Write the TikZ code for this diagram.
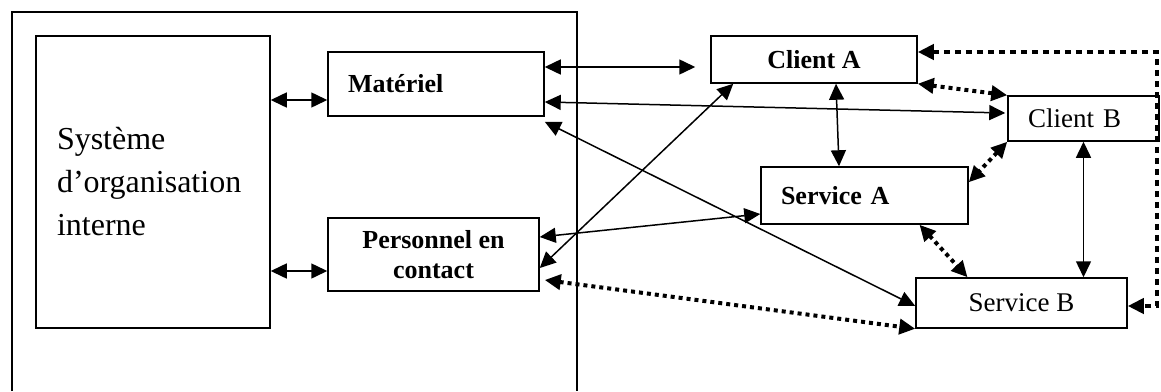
\documentclass[tikz,border=0pt]{standalone}
\usepackage{fontspec}
\setmainfont{Liberation Serif}
\usetikzlibrary{arrows.meta}
\tikzstyle{boite}=[draw,line width=1.5pt,inner sep=0pt]
\tikzstyle{gras}=[font=\fontsize{26}{30}\selectfont\bfseries]
\tikzstyle{maigre}=[font=\fontsize{27}{30}\selectfont]
\tikzstyle{lien}=[{Triangle[length=16pt,width=15pt]}-{Triangle[length=16pt,width=15pt]},line width=1.5pt]
\tikzstyle{pointille}=[lien,line width=4pt,dash pattern=on 4pt off 4pt]
\tikzstyle{tirets}=[lien,line width=4pt,dash pattern=on 6.5pt off 4.5pt]

\begin{document}
\begin{tikzpicture}[x=1pt,y=-1pt]
	\useasboundingbox (0,0) rectangle (1161,391);
	% cadre de l'entreprise, ouvert en bas
	\draw[line width=1.5pt] (12,391) -- (12,12) -- (577,12) -- (577,391);
	\node[boite,minimum height=292pt,inner xsep=21pt,text width=192pt,align=left,font=\fontsize{32}{43}\selectfont] (systeme) at (153,182) {Syst\`eme\\d'organisation\\interne};
	\node[boite,gras,minimum height=64pt,inner xsep=20pt,text width=176pt,align=left] (materiel) at (436,84) {Mat\'eriel};
	\node[boite,gras,minimum width=211pt,minimum height=73pt,align=center] (personnel) at (433.5,254.5) {Personnel en\\contact};
	\node[boite,gras,minimum width=206pt,minimum height=47pt] (clientA) at (814,59.5) {Client A};
	\node[boite,maigre,minimum height=45pt,inner xsep=20pt,text width=111pt,align=left] (clientB) at (1083.5,118.5) {Client B};
	\node[boite,gras,minimum height=57pt,inner xsep=20pt,text width=167pt,align=left] (serviceA) at (864.5,195.5) {Service A};
	\node[boite,maigre,minimum width=211pt,minimum height=50pt] (serviceB) at (1021.5,303) {Service B};
	\coordinate (bord) at (1157,52);

	\draw[lien] ([yshift=82pt]systeme.east) -- ([yshift=-16pt]materiel.west);
	\draw[lien] ([yshift=-89pt]systeme.east) -- ([yshift=-16.5pt]personnel.west);
	\draw[lien] ([yshift=17pt]materiel.east) -- ([xshift=-15pt,yshift=-7.5pt]clientA.west);
	\draw[lien] ([yshift=-18pt]materiel.east) -- ([xshift=-2pt,yshift=5.5pt]clientB.west);
	\draw[lien] ([yshift=-5pt]materiel.south east) -- ([yshift=-3pt]serviceB.west);
	\draw[lien] ([yshift=-13.5pt]personnel.east) -- ([xshift=23pt]clientA.south west);
	\draw[lien] ([yshift=17.5pt]personnel.east) -- ([yshift=-18.5pt]serviceA.west);
	\draw[pointille] ([xshift=5pt,yshift=-25.5pt]personnel.east) -- (serviceB.south west);
	\draw[lien] ([xshift=22pt]clientA.south) -- ([xshift=-25.5pt]serviceA.north);
	\draw[pointille] (clientA.south east) -- (clientB.north west);
	\draw[pointille] (clientB.south west) -- ([yshift=-16pt]serviceA.north east);
	\draw[pointille] ([xshift=55pt]serviceA.south) -- ([xshift=-54pt]serviceB.north);
	\draw[lien] (clientB.south) -- (clientB.south |- serviceB.north);
	\draw[tirets] ([yshift=7.5pt]clientA.east) -- (bord) |- ([yshift=-3pt]serviceB.east); %retour
\end{tikzpicture}
\end{document}
